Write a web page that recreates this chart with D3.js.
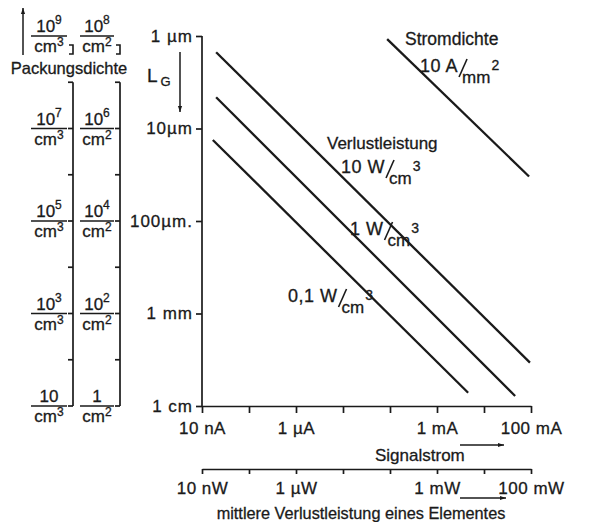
<!DOCTYPE html>
<html><head><meta charset="utf-8">
<script src="https://cdn.jsdelivr.net/npm/d3@7"></script>
<style>
body{margin:0;background:#fff;}
text{font-family:"Liberation Sans",Arial,sans-serif;fill:#1a1a1a;stroke:#1a1a1a;stroke-width:0.3px;}
</style></head>
<body><svg id="c" width="589" height="522"></svg>
<script>
// ---- data ----
const currentTicks = [1e-8,1e-7,1e-6,1e-5,1e-4,1e-3,1e-2,1e-1];
const currentLabels = ["10 nA","","1 µA","","","1 mA","","100 mA"];
const powerLabels = ["10 nW","","1 µW","","","1 mW","","100 mW"];
const lengthTicks = [1e-6,1e-5,1e-4,1e-3,1e-2];
const lengthLabels = ["1 µm","10µm","100µm.","1 mm","1 cm"];
const volExp = [1,3,5,7,9];   // 10^n / cm³
const areaExp = [0,2,4,6,8];  // 10^n / cm²
const densTicks = [1e1,1e2,1e3,1e4,1e5,1e6,1e7,1e8];
// lines: [current (A), gate length (m)]
const line10W = [[2e-8,1.5e-6],[9.5e-2,3.4e-3]];
const line1W = [[2e-8,4.6e-6],[4.6e-2,7.8e-3]];
const line01W = [[1.7e-8,1.33e-5],[4.6e-3,7.2e-3]];
const lineStrom = [[8.7e-5,1.08e-6],[9.1e-2,3.3e-5]];

const svg = d3.select("#c");
const ink = "#1a1a1a";
svg.append("defs").append("marker").attr("id","ah").attr("viewBox","0 0 10 10")
  .attr("refX",10).attr("refY",5).attr("markerWidth",11).attr("markerHeight",6)
  .attr("markerUnits","userSpaceOnUse").attr("orient","auto")
  .append("path").attr("d","M0,1.5L10,5L0,8.5Z").attr("fill",ink);

const x = d3.scaleLog().domain([1e-8,1e-1]).range([202,531]);
const y = d3.scaleLog().domain([1e-6,1e-2]).range([36,406]);
const dv = d3.scaleLog().domain([10,1e9]).range([406,36]);

function styleAxis(g){
  g.selectAll("path,line").attr("stroke",ink).attr("stroke-width",1.7);
  g.selectAll("text").attr("fill",ink).style("font-family",'"Liberation Sans",Arial,sans-serif');
}
// current axis
const gx = svg.append("g").attr("transform","translate(0,406)")
  .call(d3.axisBottom(x).tickValues(currentTicks).tickSize(7).tickSizeOuter(0).tickPadding(9)
  .tickFormat((d,i)=>currentLabels[i]));
styleAxis(gx); gx.selectAll("text").attr("font-size",17).attr("letter-spacing",0.5);
// power axis
const gp = svg.append("g").attr("transform","translate(0,469)")
  .call(d3.axisBottom(x).tickValues(currentTicks).tickSize(5).tickSizeOuter(0).tickPadding(8)
  .tickFormat((d,i)=>powerLabels[i]));
styleAxis(gp); gp.selectAll("text").attr("font-size",17).attr("letter-spacing",0.5);
// length axis
const gy = svg.append("g").attr("transform","translate(202,0)")
  .call(d3.axisLeft(y).tickValues(lengthTicks).tickSize(6).tickSizeOuter(0).tickPadding(3)
  .tickFormat((d,i)=>lengthLabels[i]));
styleAxis(gy); gy.selectAll("text").attr("font-size",17).attr("letter-spacing",1);
gy.select(".domain").attr("d","M0,36V406");

// lines
const ln = d3.line().x(d=>x(d[0])).y(d=>y(d[1]));
[line10W,line1W,line01W,lineStrom].forEach(d=>{
  svg.append("path").attr("d",ln(d)).attr("fill","none").attr("stroke",ink).attr("stroke-width",2.3);
});

// density scales
[{cx:73, exps:volExp, unit:"cm", up:"3", fc:49, hw:18},{cx:120, exps:areaExp, unit:"cm", up:"2", fc:97, hw:17}].forEach((s,k)=>{
  const g = svg.append("g");
  g.append("line").attr("x1",s.cx).attr("x2",s.cx).attr("y1",dv(1e8)).attr("y2",dv(1e1))
   .attr("stroke",ink).attr("stroke-width",1.7);
  densTicks.forEach(t=>{
    g.append("line").attr("x1",s.cx-5).attr("x2",s.cx).attr("y1",dv(t)).attr("y2",dv(t))
     .attr("stroke",ink).attr("stroke-width",1.7);
  });
  g.append("path").attr("d",`M${s.cx-4},${dv(1e9)+9}H${s.cx}V${dv(1e9)+18}H${s.cx-4}`)
   .attr("fill","none").attr("stroke",ink).attr("stroke-width",1.6);
  s.exps.forEach((e,i)=>{
    const yy = dv(Math.pow(10, volExp[i]));
    g.append("line").attr("x1",s.fc-s.hw).attr("x2",s.fc+s.hw).attr("y1",yy).attr("y2",yy)
     .attr("stroke",ink).attr("stroke-width",1.4);
    const num = g.append("text").attr("x",s.fc).attr("y",yy-4).attr("text-anchor","middle").attr("font-size",17);
    if(e===0){ num.text("1"); }
    else if(e===1){ num.text("10"); }
    else { num.append("tspan").text("10"); num.append("tspan").attr("dy",-8).attr("font-size",12).text(e); }
    const den = g.append("text").attr("x",s.fc).attr("y",yy+16).attr("text-anchor","middle").attr("font-size",17);
    den.append("tspan").text(s.unit); den.append("tspan").attr("dy",-6).attr("font-size",12).text(s.up);
  });
});
svg.append("text").attr("x",69).attr("y",74).attr("text-anchor","middle").attr("font-size",16.5).text("Packungsdichte");
svg.append("line").attr("x1",23).attr("x2",23).attr("y1",55).attr("y2",8)
  .attr("stroke",ink).attr("stroke-width",1.5).attr("marker-end","url(#ah)");

// L_G
const lg = svg.append("text").attr("x",147).attr("y",82).attr("font-size",19);
lg.append("tspan").text("L"); lg.append("tspan").attr("dy",4).attr("font-size",13).attr("dx",3).text("G");
svg.append("line").attr("x1",180).attr("x2",180).attr("y1",52).attr("y2",112)
  .attr("stroke",ink).attr("stroke-width",1.5).attr("marker-end","url(#ah)");

// axis titles
svg.append("text").attr("x",375).attr("y",461).attr("font-size",17).text("Signalstrom");
svg.append("line").attr("x1",460).attr("x2",504).attr("y1",445).attr("y2",445)
  .attr("stroke",ink).attr("stroke-width",1.5).attr("marker-end","url(#ah)");
svg.append("text").attr("x",361).attr("y",519).attr("text-anchor","middle").attr("font-size",16.3)
  .text("mittlere Verlustleistung eines Elementes");
svg.append("line").attr("x1",460).attr("x2",506).attr("y1",498).attr("y2",498)
  .attr("stroke",ink).attr("stroke-width",1.5).attr("marker-end","url(#ah)");

// annotations (head text, drawn slash, lowered unit, raised exponent)
function unitLabel(xx,yy,head,unit,sup,fs){
  const h = svg.append("text").attr("x",xx).attr("y",yy).attr("font-size",fs).attr("letter-spacing",0.5).text(head);
  const w = h.node().getComputedTextLength();
  const sx = xx + w + 1;
  svg.append("line").attr("x1",sx+8).attr("y1",yy-13).attr("x2",sx).attr("y2",yy+5)
    .attr("stroke",ink).attr("stroke-width",1.6);
  const u = svg.append("text").attr("x",sx+3).attr("y",yy+11).attr("font-size",fs-1).text(unit);
  const uw = u.node().getComputedTextLength();
  svg.append("text").attr("x",sx+4+uw).attr("y",yy-2).attr("font-size",fs-4).text(sup);
}
svg.append("text").attr("x",405).attr("y",45).attr("font-size",17.5).text("Stromdichte");
unitLabel(420,72,"10 A","mm","2",18);
svg.append("text").attr("x",327).attr("y",149).attr("font-size",17).text("Verlustleistung");
unitLabel(341,173,"10 W","cm","3",18);
unitLabel(350,235,"1 W","cm","3",18);
unitLabel(288,302,"0,1 W","cm","3",18);
</script></body></html>
